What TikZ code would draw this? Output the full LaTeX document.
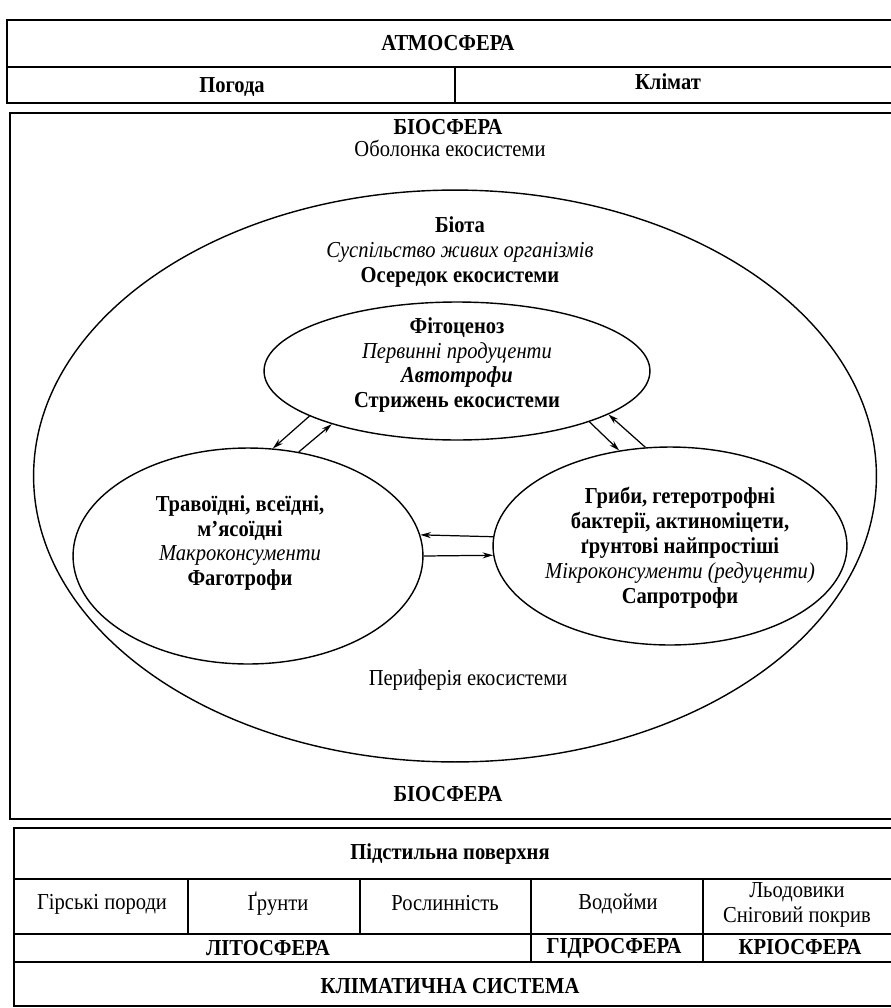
\documentclass[tikz,border=0pt]{standalone}
\usepackage{fontspec}
\setmainfont[FakeStretch=0.9]{Liberation Serif}
\usetikzlibrary{arrows, arrows.meta, shapes.geometric}

\begin{document}
\begin{tikzpicture}[x=0.02cm, y=-0.02cm,
  every node/.style={font=\fontsize{13}{14.2}\selectfont},
  heading/.style={font=\fontsize{13}{14.2}\selectfont\bfseries},
  frame/.style={line width=0.9pt},
  oval/.style={draw, ellipse, line width=0.8pt, inner sep=0pt},
  flow/.style={-{Stealth[length=6pt, width=3.4pt]}, line width=0.7pt}]

\useasboundingbox (0,0) rectangle (891,1008);

\draw[frame] (7,20) rectangle (895,103);
\draw[frame] (7,67) -- (895,67);
\draw[frame] (455,67) -- (455,103);
\node[heading] (atmo) at (448,43) {АТМОСФЕРА};
\node[heading] (weather) at (232,87) {Погода};
\node[heading] (climate) at (668,82) {Клімат};

\draw[frame] (10,113) rectangle (895,819);
\node[heading] (bio) at (448,127) {БІОСФЕРА};
\node (shell) at (450,148) {Оболонка екосистеми};
\node[heading] (biobottom) at (448,794) {БІОСФЕРА};

\node[oval, minimum width=16.86cm, minimum height=11.44cm] (biota) at (455,476) {};
\node[align=center] (biotatext) at (460,252) {{\bfseries Біота}\\ {\itshape Суспільство живих організмів}\\ {\bfseries Осередок екосистеми}};
\node (periphery) at (468,680) {Периферія екосистеми};

\node[oval, minimum width=7.72cm, minimum height=2.76cm] (phyto) at (457,371) {};
\node[align=center] (phytotext) at (457,365) {{\bfseries Фітоценоз}\\ {\itshape Первинні продуценти}\\ {\bfseries\itshape Автотрофи}\\ {\bfseries Стрижень екосистеми}};

\node[oval, minimum width=7cm, minimum height=4.32cm] (herb) at (248,556) {};
\node[align=center] (herbtext) at (240,543) {{\bfseries Травоїдні, всеїдні,}\\ {\bfseries м’ясоїдні}\\ {\itshape Макроконсументи}\\ {\bfseries Фаготрофи}};

\node[oval, minimum width=7.08cm, minimum height=3.96cm] (sapro) at (670,546) {};
\node[align=center] (saprotext) at (680,548) {{\bfseries Гриби, гетеротрофні}\\ {\bfseries бактерії, актиноміцети,}\\ {\bfseries ґрунтові найпростіші}\\ {\itshape Мікроконсументи (редуценти)}\\ {\bfseries Сапротрофи}};

\draw[flow] (phyto.197) -- (herb.77);
\draw[flow] (herb.64) -- (phyto.203);
\draw[flow] (phyto.339) -- (sapro.118);
\draw[flow] (sapro.104) -- (phyto.344);
\draw[flow] (sapro.177) -- (herb.7);
\draw[flow] (herb.0) -- (sapro.183);

\draw[frame] (14,828) rectangle (895,1006);
\draw[frame] (14,879) -- (895,879);
\draw[frame] (14,934) -- (895,934);
\draw[frame] (14,962) -- (895,962);
\draw[frame] (188,879) -- (188,934);
\draw[frame] (360,879) -- (360,934);
\draw[frame] (531,879) -- (531,962);
\draw[frame] (703,879) -- (703,962);

\node[heading] (surface) at (450,854) {Підстильна поверхня};
\node (rocks) at (102,904) {Гірські породи};
\node (soils) at (278,904) {Ґрунти};
\node (plants) at (445,903) {Рослинність};
\node (waters) at (618,904) {Водойми};
\node[align=center] (ice) at (797,905) {Льодовики\\ Сніговий покрив};
\node[heading] (litho) at (268,948) {ЛІТОСФЕРА};
\node[heading] (hydro) at (614,948) {ГІДРОСФЕРА};
\node[heading] (cryo) at (800,947) {КРІОСФЕРА};
\node[heading] (system) at (450,986) {КЛІМАТИЧНА СИСТЕМА};

\end{tikzpicture}
\end{document}
